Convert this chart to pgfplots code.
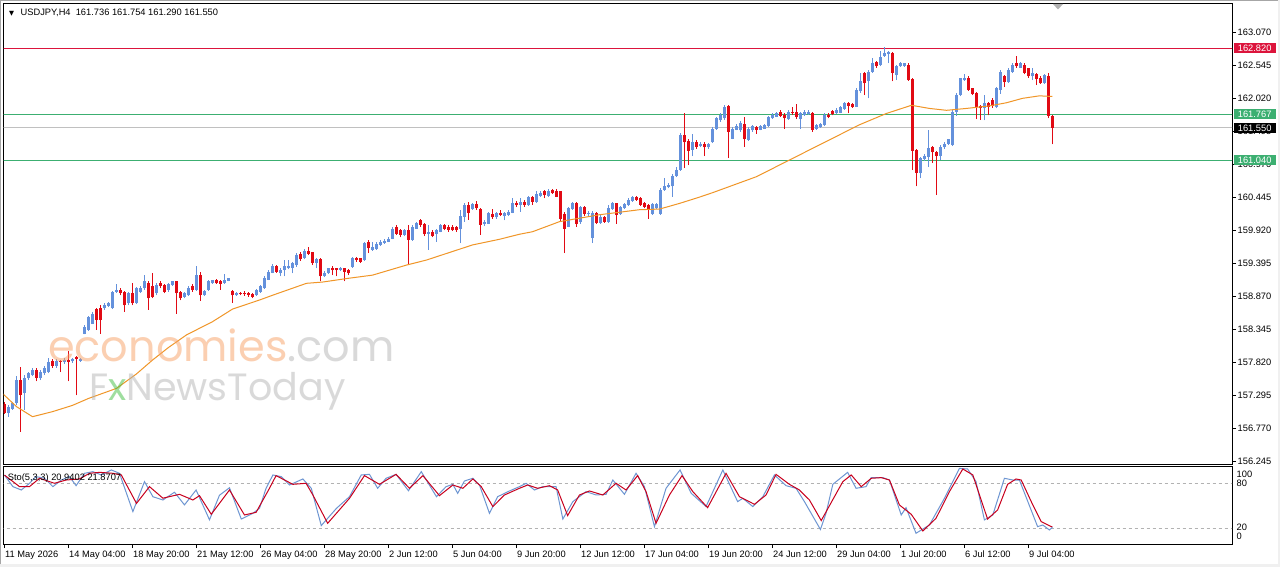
\documentclass[border=0pt]{standalone}
\usepackage{fontspec}
\setmainfont{Liberation Sans}
\newfontfamily\wmfont{Poppins}
\newfontfamily\djfont{DejaVu Sans}
\usepackage{pgfplots}
\usepackage{pgfplotstable}
\pgfplotsset{compat=1.18}
\definecolor{bull}{RGB}{100,145,220}
\definecolor{bear}{RGB}{225,10,20}
\definecolor{lvlred}{RGB}{220,20,60}
\definecolor{lvlgreen}{RGB}{60,175,113}
\definecolor{lvlgrey}{RGB}{192,192,192}
\definecolor{maor}{RGB}{240,150,40}
\definecolor{stoblue}{RGB}{110,150,210}
\definecolor{stored}{RGB}{200,0,30}
\definecolor{wmorange}{RGB}{248,160,100}
\definecolor{wmgrey}{RGB}{180,180,180}
\newcommand{\lbl}{\fontsize{9.3}{11}\selectfont}
% bullish candles: i open high low close
\pgfplotstableread{
i o h l c
1 157.02 157.14 156.96 157.12
2 157.09 157.20 157.07 157.17
3 157.17 157.60 157.14 157.55
5 157.33 157.62 157.07 157.57
6 157.57 157.67 157.54 157.65
7 157.62 157.74 157.60 157.70
9 157.57 157.70 157.54 157.67
10 157.65 157.77 157.62 157.73
11 157.67 157.90 157.65 157.83
13 157.77 157.87 157.74 157.85
15 157.83 157.89 157.80 157.86
17 157.84 157.89 157.82 157.87
19 157.85 157.89 157.83 157.87
20 158.28 158.42 158.27 158.39
21 158.34 158.56 158.33 158.54
22 158.44 158.63 158.43 158.60
25 158.68 158.76 158.66 158.73
26 158.72 158.79 158.70 158.77
27 158.68 158.96 158.67 158.95
28 158.95 159.07 158.93 158.98
31 158.76 158.95 158.73 158.92
33 158.76 159.02 158.75 159.00
34 158.95 159.03 158.93 159.00
35 159.00 159.21 158.98 159.11
38 158.92 159.08 158.89 159.05
41 158.97 159.09 158.95 159.07
42 159.05 159.12 159.04 159.11
45 158.87 158.95 158.84 158.92
46 158.89 159.03 158.88 159.00
48 158.97 159.35 158.96 159.21
50 158.89 158.98 158.88 158.96
51 158.97 159.13 158.96 159.11
52 159.08 159.14 159.07 159.13
55 159.09 159.23 159.07 159.13
56 159.12 159.17 159.11 159.16
58 158.89 158.95 158.88 158.93
63 158.89 158.99 158.88 158.98
64 158.95 159.05 158.93 159.03
65 159.00 159.19 158.99 159.16
66 159.14 159.29 159.13 159.26
67 159.25 159.39 159.24 159.36
69 159.24 159.32 159.19 159.29
70 159.29 159.45 159.19 159.36
71 159.32 159.45 159.30 159.36
72 159.32 159.42 159.24 159.40
73 159.37 159.56 159.34 159.53
75 159.48 159.62 159.46 159.60
78 159.40 159.48 159.32 159.46
80 159.19 159.27 159.18 159.25
81 159.24 159.33 159.23 159.32
84 159.29 159.34 159.27 159.32
87 159.34 159.50 159.33 159.48
90 159.45 159.74 159.44 159.72
92 159.61 159.74 159.60 159.65
93 159.62 159.73 159.61 159.70
94 159.69 159.77 159.67 159.74
95 159.72 159.78 159.71 159.76
96 159.74 159.82 159.73 159.79
97 159.79 159.98 159.78 159.95
100 159.85 159.95 159.83 159.93
102 159.77 160.01 159.76 159.98
103 159.95 160.06 159.94 160.04
106 159.86 160.00 159.61 159.90
108 159.86 159.95 159.74 159.93
109 159.90 160.03 159.89 160.01
114 159.95 160.24 159.72 160.15
115 160.14 160.35 160.06 160.33
117 160.26 160.36 160.25 160.34
120 160.02 160.09 159.99 160.06
121 160.03 160.22 160.02 160.19
123 160.13 160.22 160.11 160.20
125 160.15 160.22 160.08 160.20
126 160.17 160.25 160.15 160.22
127 160.20 160.43 160.19 160.36
129 160.33 160.43 160.22 160.38
131 160.33 160.47 160.31 160.45
133 160.38 160.54 160.36 160.50
134 160.47 160.55 160.46 160.52
136 160.47 160.58 160.46 160.55
141 159.98 160.30 159.97 160.27
142 160.26 160.38 160.25 160.35
144 160.06 160.31 160.03 160.29
146 160.18 160.23 160.15 160.20
147 159.80 160.23 159.72 160.20
149 160.04 160.17 160.03 160.13
151 160.06 160.32 160.04 160.27
152 160.26 160.38 160.25 160.35
154 160.18 160.31 160.17 160.29
155 160.27 160.36 160.26 160.34
156 160.33 160.43 160.31 160.41
157 160.39 160.47 160.38 160.45
162 160.18 160.36 160.17 160.34
163 160.27 160.36 160.26 160.34
164 160.18 160.60 160.17 160.57
165 160.56 160.76 160.55 160.63
166 160.61 160.67 160.59 160.64
167 160.62 160.82 160.46 160.79
168 160.78 160.93 160.77 160.88
169 160.88 161.47 160.87 161.44
172 161.20 161.45 161.10 161.33
174 161.26 161.33 161.24 161.30
176 161.24 161.31 161.22 161.29
177 161.32 161.57 161.31 161.54
178 161.53 161.72 161.52 161.70
179 161.67 161.79 161.65 161.76
180 161.70 161.91 161.68 161.88
182 161.38 161.57 161.37 161.54
183 161.52 161.61 161.51 161.58
184 161.51 161.66 161.49 161.63
186 161.36 161.56 161.35 161.53
187 161.51 161.60 161.49 161.58
189 161.52 161.60 161.51 161.58
190 161.54 161.62 161.53 161.60
191 161.58 161.74 161.57 161.72
192 161.70 161.78 161.69 161.76
193 161.73 161.81 161.72 161.78
196 161.69 161.83 161.68 161.81
199 161.69 161.81 161.54 161.78
200 161.76 161.83 161.74 161.81
201 161.77 161.83 161.76 161.81
203 161.53 161.62 161.52 161.60
204 161.57 161.63 161.55 161.61
205 161.60 161.78 161.58 161.76
208 161.78 161.86 161.77 161.83
209 161.79 161.90 161.78 161.88
210 161.85 161.97 161.84 161.94
213 161.89 162.18 161.88 162.16
214 162.13 162.42 162.11 162.29
216 162.29 162.47 162.02 162.44
217 162.44 162.66 162.43 162.59
219 162.55 162.78 162.53 162.67
220 162.69 162.84 162.68 162.74
221 162.72 162.78 162.58 162.75
223 162.39 162.55 162.31 162.53
224 162.53 162.60 162.52 162.58
225 162.53 162.59 162.52 162.58
229 160.84 161.09 160.75 161.07
230 161.05 161.13 161.03 161.10
231 161.09 161.52 160.93 161.23
234 161.10 161.28 161.04 161.25
235 161.24 161.33 161.22 161.30
236 161.30 161.38 161.28 161.37
237 161.28 161.83 161.26 161.81
238 161.81 162.10 161.74 162.07
239 162.07 162.35 162.05 162.34
240 162.31 162.41 162.30 162.34
245 161.86 162.07 161.67 161.95
248 161.88 162.20 161.86 162.18
249 162.15 162.47 162.09 162.44
251 162.28 162.50 162.27 162.47
252 162.44 162.58 162.43 162.55
254 162.51 162.60 162.50 162.58
257 162.37 162.50 162.31 162.43
260 162.26 162.41 162.25 162.39
}\bulls
% bearish candles: i open high low close
\pgfplotstableread{
i o h l c
0 157.16 157.20 157.00 157.02
4 157.54 157.75 156.72 157.30
8 157.71 157.74 157.52 157.58
12 157.85 157.87 157.74 157.77
14 157.85 157.86 157.67 157.83
16 157.86 158.01 157.52 157.83
18 157.91 157.92 157.30 157.88
23 158.67 158.68 158.34 158.50
24 158.68 158.73 158.28 158.50
29 158.97 159.00 158.89 158.92
30 158.95 158.96 158.63 158.73
32 158.92 159.08 158.73 158.76
36 159.09 159.11 158.66 158.84
37 159.03 159.24 158.84 158.87
39 159.08 159.11 159.00 159.03
40 159.05 159.07 158.92 158.95
43 159.11 159.12 158.60 158.92
44 158.95 158.96 158.81 158.84
47 159.03 159.07 158.95 158.97
49 159.21 159.26 158.80 158.89
53 159.13 159.15 159.07 159.08
54 159.12 159.14 158.98 159.07
57 158.96 158.97 158.77 158.89
59 158.93 158.95 158.89 158.91
60 158.93 158.96 158.88 158.91
61 158.93 158.95 158.87 158.90
62 158.91 158.93 158.84 158.87
68 159.36 159.37 159.25 159.26
74 159.54 159.57 159.44 159.46
76 159.60 159.65 159.53 159.55
77 159.57 159.58 159.37 159.40
79 159.46 159.48 159.11 159.19
82 159.33 159.35 159.21 159.29
83 159.32 159.33 159.19 159.29
85 159.32 159.33 159.11 159.26
86 159.29 159.30 159.21 159.24
88 159.49 159.50 159.42 159.45
89 159.48 159.49 159.40 159.42
91 159.74 159.77 159.56 159.64
98 159.98 160.00 159.85 159.87
99 159.93 159.95 159.81 159.85
101 159.93 160.00 159.37 159.77
104 160.08 160.10 159.98 160.01
105 160.02 160.04 159.83 159.86
107 159.90 159.93 159.81 159.83
110 160.01 160.03 159.92 159.94
111 159.98 160.01 159.90 159.93
112 159.98 160.00 159.91 159.93
113 159.97 159.99 159.90 159.92
116 160.33 160.38 160.09 160.20
118 160.34 160.39 160.25 160.27
119 160.26 160.27 159.85 160.01
122 160.18 160.26 160.11 160.13
124 160.20 160.25 160.15 160.17
128 160.36 160.39 160.29 160.32
130 160.38 160.40 160.30 160.33
132 160.45 160.47 160.33 160.38
135 160.54 160.56 160.43 160.48
137 160.56 160.58 160.50 160.51
138 160.54 160.58 160.45 160.46
139 160.54 160.55 160.06 160.11
140 160.18 160.22 159.56 159.95
143 160.35 160.38 159.98 160.03
145 160.29 160.31 160.15 160.18
148 160.20 160.22 160.02 160.04
150 160.13 160.15 160.04 160.06
153 160.35 160.36 160.03 160.17
158 160.45 160.47 160.39 160.41
159 160.43 160.45 160.31 160.33
160 160.35 160.37 160.27 160.30
161 160.33 160.34 160.11 160.25
170 161.44 161.79 160.91 161.32
171 161.35 161.37 160.96 161.19
173 161.33 161.36 161.22 161.25
175 161.30 161.32 161.10 161.24
181 161.90 161.91 161.07 161.49
185 161.62 161.72 161.25 161.37
188 161.56 161.58 161.46 161.52
194 161.81 161.83 161.72 161.74
195 161.76 161.78 161.54 161.70
197 161.81 161.89 161.76 161.78
198 161.81 161.93 161.69 161.72
202 161.79 161.81 161.49 161.52
206 161.76 161.78 161.70 161.72
207 161.82 161.84 161.75 161.77
211 161.95 161.97 161.78 161.90
212 161.93 161.95 161.87 161.89
215 162.42 162.44 162.07 162.26
218 162.60 162.62 162.51 162.53
222 162.74 162.76 162.29 162.42
226 162.55 162.58 162.30 162.31
227 162.32 162.34 160.88 161.19
228 161.20 161.22 160.62 160.84
232 161.24 161.26 160.99 161.16
233 161.16 161.19 160.48 161.10
241 162.35 162.37 162.14 162.15
242 162.18 162.19 162.07 162.09
243 162.10 162.12 161.69 161.88
244 161.90 161.91 161.68 161.86
246 161.94 161.97 161.75 161.88
247 161.99 162.02 161.87 161.90
250 162.37 162.39 162.20 162.28
253 162.58 162.69 162.51 162.53
255 162.55 162.58 162.40 162.43
256 162.50 162.51 162.35 162.37
258 162.41 162.43 162.23 162.32
259 162.35 162.37 162.25 162.26
261 162.37 162.42 161.70 161.74
262 161.736 161.754 161.290 161.550
}\bears
\begin{document}
\begin{tikzpicture}
\useasboundingbox (0pt,0pt) rectangle (1280pt,-567pt);
\fill[black!6] (0pt,0pt) rectangle (1280pt,-567pt);
\fill[white] (1pt,-1pt) rectangle (1277.5pt,-563.5pt);
\draw[black!35, line width=1pt] (0.5pt,-564pt) -- (0.5pt,-0.5pt) -- (1278pt,-0.5pt);
% ---------------- main price panel
\begin{axis}[
  at={(3.5pt,-464pt)}, anchor=south west,
  width=1228.5pt, height=460pt, scale only axis,
  xmin=-0.25, xmax=306.9, ymin=156.208, ymax=163.52,
  axis line style={line width=1pt},
  xtick=\empty,
  ytick={156.245,156.770,157.295,157.820,158.345,158.870,159.395,159.920,160.445,160.970,161.495,162.020,162.545,163.070},
  yticklabels={156.245,156.770,157.295,157.820,158.345,158.870,159.395,159.920,160.445,160.970,161.495,162.020,162.545,163.070},
  ytick pos=right, tick align=outside, major tick length=4pt,
  ytick style={line width=0.8pt, black},
  yticklabel style={font=\lbl, anchor=west, inner xsep=1.5pt},
  after end axis/.code={
    \node[fill=lvlred, text=white, font=\lbl, anchor=west, minimum width=42pt, minimum height=10pt, inner sep=0pt, xshift=1.5pt] at (axis cs:306.9,162.820) {162.820};
    \node[fill=lvlgreen, text=white, font=\lbl, anchor=west, minimum width=42pt, minimum height=10pt, inner sep=0pt, xshift=1.5pt] at (axis cs:306.9,161.767) {161.767};
    \node[fill=black, text=white, font=\lbl, anchor=west, minimum width=42pt, minimum height=10pt, inner sep=0pt, xshift=1.5pt] at (axis cs:306.9,161.550) {161.550};
    \node[fill=lvlgreen, text=white, font=\lbl, anchor=west, minimum width=42pt, minimum height=10pt, inner sep=0pt, xshift=1.5pt] at (axis cs:306.9,161.040) {161.040};
  },
]
\addplot[lvlred, line width=1pt] coordinates {(-1,162.820) (310,162.820)};
\addplot[lvlgreen, line width=1pt] coordinates {(-1,161.767) (310,161.767)};
\addplot[lvlgrey, line width=1pt] coordinates {(-1,161.550) (310,161.550)};
\addplot[lvlgreen, line width=1pt] coordinates {(-1,161.040) (310,161.040)};
% candles: wicks (low to high) and bodies (open to close)
\addplot[bull, line width=1pt, quiver={u=0, v={\thisrow{h}-\thisrow{l}}}] table[x=i, y=l] \bulls;
\addplot[bear, line width=1pt, quiver={u=0, v={\thisrow{h}-\thisrow{l}}}] table[x=i, y=l] \bears;
\addplot[bull, line width=3pt, quiver={u=0, v={max(\thisrow{c}-\thisrow{o},0.012)}}] table[x=i, y=o] \bulls;
\addplot[bear, line width=3pt, quiver={u=0, v={max(\thisrow{o}-\thisrow{c},0.012)}}] table[x=i, y=c] \bears;
% moving average
\addplot[maor, line width=1pt] table {
x y
-0.5 157.33
3 157.12
7 156.96
12 157.04
17 157.14
21 157.25
28 157.41
33 157.64
37 157.86
41 158.06
45.5 158.26
52 158.47
57 158.67
64 158.82
67 158.89
75.5 159.08
79.5 159.10
86 159.16
92 159.21
100.5 159.37
105.5 159.45
117 159.69
123.75 159.78
128.75 159.86
132 159.90
138.75 160.06
148.75 160.17
158.75 160.25
163.75 160.26
168.75 160.35
173.75 160.45
177 160.52
188 160.775
196.25 161.04
206.25 161.36
213.75 161.60
220.5 161.78
226.75 161.91
231.25 161.86
235.5 161.83
240.5 161.86
246.25 161.90
250.5 161.95
254.5 162.02
258.75 162.06
262 162.05
};
\end{axis}
% watermark
\node[anchor=base west, inner sep=0pt, text opacity=0.5, font=\wmfont\fontsize{43}{45}\selectfont] at (48pt,-361pt) {\textcolor{wmorange}{economies}\textcolor{wmgrey}{.com}};
\node[anchor=base west, inner sep=0pt, text opacity=0.5, font=\wmfont\fontsize{38}{40}\selectfont, text=wmgrey] at (89pt,-400pt) {F\textcolor{green!50!gray}{x}NewsToday};
% header
\node[anchor=base west, inner sep=0pt, font=\djfont\fontsize{6.5}{7}\selectfont] at (9pt,-15.5pt) {▼};
\node[anchor=base west, inner sep=0pt, font=\lbl] at (20.5pt,-15.7pt) {USDJPY,H4\ \ 161.736 161.754 161.290 161.550};
\fill[black!30] (1053pt,-4pt) -- (1063pt,-4pt) -- (1058pt,-9.5pt) -- cycle;
% ---------------- stochastic panel
\begin{axis}[
  at={(3.5pt,-544pt)}, anchor=south west,
  width=1228.5pt, height=77.7pt, scale only axis,
  xmin=-0.25, xmax=306.9, ymin=-1.5, ymax=102.8,
  axis line style={line width=1pt},
  ytick=\empty,
  xtick={0,16,...,256},
  xticklabels={11 May 2026,14 May 04:00,18 May 20:00,21 May 12:00,26 May 04:00,28 May 20:00,2 Jun 12:00,5 Jun 04:00,9 Jun 20:00,12 Jun 12:00,17 Jun 04:00,19 Jun 20:00,24 Jun 12:00,29 Jun 04:00,1 Jul 20:00,6 Jul 12:00,9 Jul 04:00},
  xtick pos=bottom, tick align=outside, major tick length=4pt,
  xtick style={line width=0.8pt, black},
  xticklabel style={font=\lbl, anchor=north west, inner xsep=0pt, inner ysep=3pt, xshift=0.5pt},
  after end axis/.code={
    \node[anchor=west, font=\lbl, inner sep=0pt, xshift=4.5pt] at (axis cs:306.9,92.5) {100};
    \node[anchor=west, font=\lbl, inner sep=0pt, xshift=4.5pt] at (axis cs:306.9,80) {80};
    \node[anchor=west, font=\lbl, inner sep=0pt, xshift=4.5pt] at (axis cs:306.9,20.4) {20};
    \node[anchor=west, font=\lbl, inner sep=0pt, xshift=4.5pt] at (axis cs:306.9,9.3) {0};
    \node[anchor=base west, font=\lbl, inner sep=0pt] at (axis cs:0.8,84) {Sto(5,3,3) 20.9402 21.8707};
  },
]
\addplot[black!30, dash pattern=on 3pt off 3pt, line width=0.8pt] coordinates {(-1,80) (310,80)};
\addplot[black!30, dash pattern=on 3pt off 3pt, line width=0.8pt] coordinates {(-1,20) (310,20)};
\addplot[stoblue, line width=1pt] table {
x y
0 91
2.1 75.5
4.2 71
6.25 80
7.9 89
10 86.7
12.1 75.5
14.2 84.4
16.25 89
17.9 76.8
20 93.4
22.1 95.6
24.2 91.2
26.7 97.9
28.75 93.4
32.1 42
35 82.2
37.1 62
39.6 57.6
42.5 68
45 51
47.9 71
51.25 31
53.75 64
56.25 74
59.2 32
62.1 39.7
63.75 46.4
65.4 73.3
67.1 91.2
69.2 88.9
71.25 77.7
74.6 85.8
76.7 73.3
79.2 23.2
83 46.4
86.25 62
89.2 91.2
91.25 92
93.3 73.3
95.4 86.7
97.9 92
101 70
104.2 95.6
108 62
110.4 75.5
112.1 78.6
113.3 66.5
115 83.1
117.1 86.7
118.75 77.7
121.25 39.7
123.3 62
126.25 69.7
128.75 75.5
130.4 80
132.5 71
134.6 75.5
137.9 75.5
139.6 32
142.1 55.4
145.4 68.8
147.9 64.3
150.4 65.2
152.1 84.4
155 65.2
157.9 93.4
160 75.5
162.5 21.8
165.4 73.3
168.9 97.9
171.7 66.5
175.4 48.7
179.6 97.9
183.3 55.4
184.6 59.8
187.1 48.7
189.6 62
192.5 91.2
195.4 76.8
197.9 73.3
200 55.4
204 18
205.4 39.7
207.1 78.6
208.75 85.8
210.8 94.7
212.9 73.3
215.4 75.5
216.7 87.6
219.6 87.6
221.25 84.4
224.2 37.5
225.4 47.3
227.9 12.9
231.25 24
235 59.8
238.75 100
240.8 99.2
242.9 82.2
245 30.8
247.1 37.5
250 86.7
252.1 84.4
253.75 84.4
258.3 21.8
259.6 24
261.25 17.3
262 20.94
};
\addplot[stored, line width=1pt] table {
x y
0 91
3.75 75.5
6.25 75.5
8.75 86.7
12.5 80
15.4 84.4
18.75 85.8
21.25 93.4
23.75 94.7
27.1 93.4
29.2 91.2
33 53
36.25 75.5
39.6 60
43.75 65.2
47.1 57.6
48.75 63.4
51.7 38.4
56.25 71
60 37.5
62.9 41
66.25 73.3
67.9 90.3
72.1 78.6
75.4 80
77.1 64.3
80.8 26.3
86.25 59.8
90 90.3
93.75 78.6
97.9 92
101.25 73.3
104.6 90.3
108.75 63.4
112.1 77.7
114.6 73.3
117.1 85.8
119.2 75.5
122.1 48.7
125 64.3
128.75 73.3
130.8 77.7
133.3 73.3
136.25 76.8
138.3 71
140.8 36.6
143.75 64.3
146.25 69.7
149.6 64.3
152.9 80
155.4 71
158.3 90.3
160.4 68.8
162.9 26.3
166.25 64.3
169.4 90.3
172.1 68.8
175.8 47.3
180.4 93.4
183.75 62
187.5 51.8
190.4 64.3
192.9 92
196.25 78.6
198.75 71
201.25 57.6
204.2 30
207.5 62
209.6 82.2
211.7 91.2
214.2 75.5
216.7 86.7
219.2 87.6
221.25 84.4
223.75 50.9
226.7 38.4
229.6 16
232.9 33
236.25 68.8
239.6 99.2
242.1 91.2
244.6 50.9
245.8 32
248.3 44.2
250.8 78.6
252.9 85.8
254.2 84.4
257.1 50.9
259.2 28.5
261.7 21.8
262 21.87
};
\end{axis}
\end{tikzpicture}
\end{document}
